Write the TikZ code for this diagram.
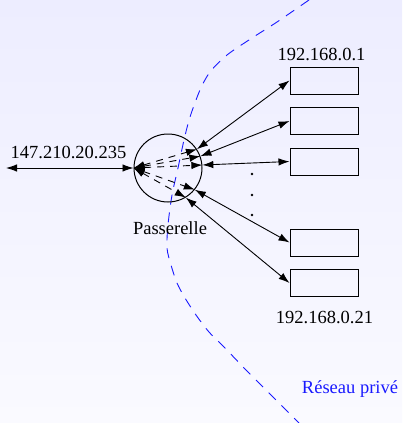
\documentclass[tikz,border=0pt]{standalone}
\usepackage{fontspec}
\setmainfont{Liberation Serif}
\usetikzlibrary{arrows.meta}
\definecolor{bgtop}{RGB}{237,237,255}
\definecolor{bgbot}{RGB}{250,250,255}
\definecolor{netblue}{RGB}{25,25,255}
\begin{document}
\begin{tikzpicture}[x=1pt,y=-1pt,
  every node/.style={font=\fontsize{18.5}{22}\selectfont},
  gwstyle/.style={draw, circle, minimum size=68pt, inner sep=0pt, line width=1pt},
  hostbox/.style={draw, rectangle, minimum width=68pt, minimum height=27pt, inner sep=0pt, line width=1pt},
  conn/.style={draw, line width=0.9pt, {Latex[length=11pt,width=7.5pt]}-{Latex[length=11pt,width=7.5pt]}},
  inner/.style={conn, dash pattern=on 7pt off 6pt},
  lbl/.style={anchor=base, inner sep=0pt},
  dotstyle/.style={circle, fill, inner sep=0pt, minimum size=2.8pt},
  netline/.style={draw=netblue, line width=0.9pt, dash pattern=on 10pt off 8pt}
]
\shade[top color=bgtop, bottom color=bgbot] (0,0) rectangle (402,423);
\useasboundingbox (0,0) rectangle (402,423);

\begin{scope}
\clip (0,0) rectangle (402,423);
\draw[netline] plot[smooth] coordinates {(309,0) (277,22) (252,38) (227,55) (210,72) (200,90) (190,117) (184,140) (178,168) (172,195) (168,225) (167,248) (171,265) (177,283) (185,298) (196,315) (209,332) (225,348) (246,370) (268,392) (299,423)};
\end{scope}

\node[gwstyle] (gw) at (168,168) {};
\node[hostbox] (b1) at (324,80.5) {};
\node[hostbox] (b2) at (324,121) {};
\node[hostbox] (b3) at (324,161.5) {};
\node[hostbox] (b4) at (324,242.5) {};
\node[hostbox] (b5) at (324,283) {};

\node[lbl] (l1) at (321.5,60.5) {192.168.0.1};
\node[lbl] (l21) at (324.5,323.5) {192.168.0.21};
\node[lbl] (lext) at (68.5,158.3) {147.210.20.235};
\node[lbl] (lgw) at (170,234.3) {Passerelle};
\node[lbl, text=netblue] (lnet) at (350,393) {Réseau privé};

\node[dotstyle] (d1) at (252,174) {};
\node[dotstyle] (d2) at (252,195) {};
\node[dotstyle] (d3) at (252,215) {};

\coordinate (ext) at (6,168);
\draw[conn] (ext) -- (gw.west);
\foreach \b/\a in {b1/33,b2/20,b3/5,b4/-39,b5/-59} {
  \draw[conn] (\b.west) -- (gw.\a);
  \draw[inner] (gw.west) -- (gw.\a);
}
\end{tikzpicture}
\end{document}
